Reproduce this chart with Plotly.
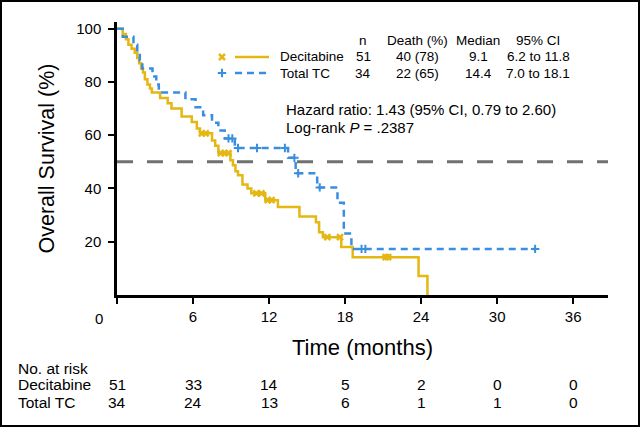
import plotly.graph_objects as go

# ---------------- data ----------------
dec_times = [0.45, 0.7, 0.9, 1.15, 1.4, 1.6, 1.75, 1.9, 2.05, 2.2, 2.4, 2.6, 2.75, 3.4, 4.0,
             4.3, 5.1, 5.9, 6.3, 6.55, 7.5, 7.75, 8.0, 8.95, 9.15, 9.35, 9.55, 9.9, 10.3, 10.6,
             11.7, 12.7, 14.4, 15.7, 15.95, 16.25, 17.7, 18.6, 23.8, 24.5]
dec_surv = [98, 96, 94, 92.5, 91, 89, 87, 85, 83.5, 81, 79, 77.5, 76, 74, 72,
            70, 67, 65, 62.5, 60.7, 58, 56, 53.3, 50.6, 48.7, 46.5, 45, 41.5, 40, 38.2,
            35.6, 33, 29.5, 27.3, 23.6, 21.7, 18, 14.2, 7.1, 0]
dec_cens_t = [6.7, 7.0, 8.2, 8.5, 8.8, 11.0, 11.4, 11.9, 12.2, 16.6, 17.6, 21.2, 21.4]
dec_cens_s = [60.7, 60.7, 53.3, 53.3, 53.3, 38.2, 38.2, 35.6, 35.6, 21.7, 21.7, 14.2, 14.2]

tc_times = [0.45, 1.3, 1.6, 1.8, 2.0, 2.8, 3.1, 3.3, 5.4, 6.2, 6.8, 7.5, 8.0, 8.5, 9.3,
            13.5, 14.1, 15.8, 17.4, 17.9, 18.5]
tc_surv = [97, 94, 91, 88, 85, 82, 79, 76, 73.5, 70.5, 67.5, 64.7, 61.8, 58.8, 55.2,
           51.5, 45.7, 40.4, 34.6, 23.1, 17.3]
tc_end = 33.0
tc_cens_t = [8.8, 9.1, 9.55, 11.05, 13.25, 14.0, 14.3, 16.0, 19.3, 19.6, 33.0]
tc_cens_s = [58.8, 58.8, 55.2, 55.2, 55.2, 51.5, 45.7, 40.4, 17.3, 17.3, 17.3]

x_ticks = [0, 6, 12, 18, 24, 30, 36]
y_ticks = [20, 40, 60, 80, 100]
risk_dec = [51, 33, 14, 5, 2, 0, 0]
risk_tc = [34, 24, 13, 6, 1, 1, 0]

table_header = ["n", "Death (%)", "Median", "95% CI"]
table_dec = ["51", "40 (78)", "9.1", "6.2 to 11.8"]
table_tc = ["34", "22 (65)", "14.4", "7.0 to 18.1"]

# ---------------- style ----------------
YEL = "#E4B713"
BLU = "#3A8EE0"
FONT = "Liberation Sans, Arial, sans-serif"

W, H = 640, 427
L, R, T, B = 117, 32, 22, 132
PW, PH = W - L - R, H - T - B
XMAX, YMAX = 38.75, 102.5


def px(xp):  # pixel -> paper x
    return (xp - L) / PW


def py(yp):  # pixel -> paper y
    return (T + PH - yp) / PH


def dx(xp):  # pixel -> data x
    return (xp - L) / PW * XMAX


def dy(yp):
    return (T + PH - yp) / PH * YMAX


fig = go.Figure()

# 50% reference line
fig.add_shape(type="line", xref="paper", yref="y", x0=0, x1=1, y0=50, y1=50,
              line=dict(color="#707070", width=3, dash="16px,14px"))

# KM curves
fig.add_trace(go.Scatter(x=[0] + dec_times, y=[100] + dec_surv, mode="lines",
                         line=dict(color=YEL, width=2.5, shape="hv"), showlegend=False,
                         cliponaxis=False, hoverinfo="skip"))
fig.add_trace(go.Scatter(x=[0] + tc_times + [tc_end], y=[100] + tc_surv + [tc_surv[-1]],
                         mode="lines", line=dict(color=BLU, width=2.5, shape="hv",
                                                 dash="7px,5px"),
                         showlegend=False, cliponaxis=False, hoverinfo="skip"))
fig.add_trace(go.Scatter(x=dec_cens_t, y=dec_cens_s, mode="markers",
                         marker=dict(symbol="x-thin", size=6, line=dict(color=YEL, width=2.5)),
                         showlegend=False, hoverinfo="skip"))
fig.add_trace(go.Scatter(x=tc_cens_t, y=tc_cens_s, mode="markers",
                         marker=dict(symbol="cross-thin", size=6, line=dict(color=BLU, width=2)),
                         showlegend=False, hoverinfo="skip"))

# legend samples
fig.add_trace(go.Scatter(x=[dx(222)], y=[dy(57)], mode="markers",
                         marker=dict(symbol="x-thin", size=6, line=dict(color=YEL, width=2.5)),
                         showlegend=False, cliponaxis=False, hoverinfo="skip"))
fig.add_trace(go.Scatter(x=[dx(222)], y=[dy(73)], mode="markers",
                         marker=dict(symbol="cross-thin", size=6, line=dict(color=BLU, width=2)),
                         showlegend=False, cliponaxis=False, hoverinfo="skip"))
fig.add_shape(type="line", xref="paper", yref="paper", x0=px(235), x1=px(269),
              y0=py(57), y1=py(57), line=dict(color=YEL, width=2.5))
fig.add_shape(type="line", xref="paper", yref="paper", x0=px(235), x1=px(269),
              y0=py(73), y1=py(73), line=dict(color=BLU, width=2.5, dash="7px,5px"))

ann = []
tf = dict(family=FONT, size=13.5, color="black")
ann.append(dict(x=px(278), y=py(56), text="Decitabine", xanchor="left", yanchor="middle"))
ann.append(dict(x=px(278), y=py(73), text="Total TC", xanchor="left", yanchor="middle"))
cols = [363, 417, 478, 538]
for c, h, a, b in zip(cols, table_header, table_dec, table_tc):
    ann.append(dict(x=px(c), y=py(40), text=h, xanchor="center", yanchor="middle"))
    ann.append(dict(x=px(c), y=py(56), text=a, xanchor="center", yanchor="middle"))
    ann.append(dict(x=px(c), y=py(73), text=b, xanchor="center", yanchor="middle"))
for a in ann:
    a.update(xref="paper", yref="paper", showarrow=False, font=tf)

hf = dict(family=FONT, size=15, color="black")
ann.append(dict(x=px(284), y=py(110), xref="paper", yref="paper", showarrow=False,
                text="Hazard ratio: 1.43 (95% CI, 0.79 to 2.60)", xanchor="left",
                yanchor="middle", font=hf))
ann.append(dict(x=px(284), y=py(128), xref="paper", yref="paper", showarrow=False,
                text="Log-rank <i>P</i> = .2387", xanchor="left",
                yanchor="middle", font=hf))

# x tick label "0" offset to the left
ann.append(dict(x=px(99), y=py(318), xref="paper", yref="paper", showarrow=False,
                text="0", xanchor="center", yanchor="middle",
                font=dict(family=FONT, size=15, color="black")))

# risk table
rf = dict(family=FONT, size=15.5, color="black")
ann.append(dict(x=px(16), y=py(368), xref="paper", yref="paper", showarrow=False,
                text="No. at risk", xanchor="left", yanchor="middle", font=rf))
ann.append(dict(x=px(16), y=py(384), xref="paper", yref="paper", showarrow=False,
                text="Decitabine", xanchor="left", yanchor="middle", font=rf))
ann.append(dict(x=px(16), y=py(402), xref="paper", yref="paper", showarrow=False,
                text="Total TC", xanchor="left", yanchor="middle", font=rf))
for t, a, b in zip(x_ticks, risk_dec, risk_tc):
    ann.append(dict(x=t, y=py(384), xref="x", yref="paper", showarrow=False,
                    text=str(a), xanchor="center", yanchor="middle", font=rf))
    ann.append(dict(x=t, y=py(402), xref="x", yref="paper", showarrow=False,
                    text=str(b), xanchor="center", yanchor="middle", font=rf))

# frame
fig.add_shape(type="rect", xref="paper", yref="paper", x0=px(1), x1=px(639), y0=py(426),
              y1=py(1), line=dict(color="black", width=2), layer="above")

fig.update_layout(
    width=W, height=H, margin=dict(l=L, r=R, t=T, b=B, autoexpand=False),
    paper_bgcolor="white", plot_bgcolor="white", annotations=ann, hovermode=False,
    xaxis=dict(range=[0, XMAX], tickvals=x_ticks,
               ticktext=[""] + [str(v) for v in x_ticks[1:]],
               showline=True, linecolor="black", linewidth=2.5, ticks="outside",
               ticklen=6, tickwidth=2, tickcolor="black", showgrid=False, zeroline=False,
               tickfont=dict(family=FONT, size=15, color="black"),
               title=dict(text="Time (months)", font=dict(family=FONT, size=22, color="black"),
                          standoff=16)),
    yaxis=dict(range=[0, YMAX], tickvals=y_ticks, showline=True, linecolor="black",
               linewidth=2.5, ticks="outside", ticklen=6, tickwidth=2, tickcolor="black",
               showgrid=False, zeroline=False, ticklabelstandoff=4,
               tickfont=dict(family=FONT, size=15, color="black"),
               title=dict(text="Overall Survival (%)",
                          font=dict(family=FONT, size=21.5, color="black"), standoff=16)),
)

fig.write_html("out.html", config={"displayModeBar": False},
               post_script="document.body.style.margin='0';document.body.style.overflow='hidden';")
